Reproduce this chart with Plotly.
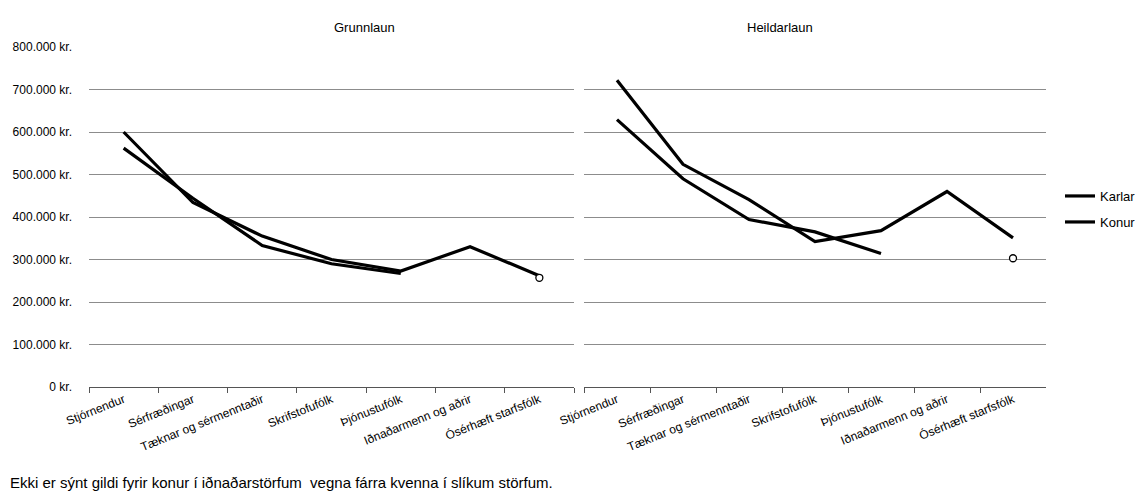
import plotly.graph_objects as go
from plotly.subplots import make_subplots

# Gögn (lesin af myndinni)
starfshopar = ["Stjórnendur", "Sérfræðingar", "Tæknar og sérmenntaðir", "Skrifstofufólk",
               "Þjónustufólk", "Iðnaðarmenn og aðrir", "Ósérhæft starfsfólk"]
grunnlaun_karlar = [600000, 434000, 355000, 300000, 273000, 330000, 262000]
grunnlaun_konur = [562000, 444000, 333000, 290000, 267000, None, 257000]
heildarlaun_karlar = [722000, 524000, 441000, 342000, 368000, 460000, 351000]
heildarlaun_konur = [629000, 490000, 394000, 365000, 314000, None, 303000]

y_gildi = [0, 100000, 200000, 300000, 400000, 500000, 600000, 700000, 800000]
y_merki = ["0 kr.", "100.000 kr.", "200.000 kr.", "300.000 kr.", "400.000 kr.",
           "500.000 kr.", "600.000 kr.", "700.000 kr.", "800.000 kr."]

LETUR = "Liberation Sans, Arial, sans-serif"
W, H = 1146, 500
TOP, BOTTOM = 47, 387


def px_x(p):
    return p / W


def px_y(p):
    return (BOTTOM - p) / (BOTTOM - TOP)


def einangrud(gildi):
    """Punktar sem hafa engan nágranna -> sýndir sem hringur"""
    idx = []
    for i, v in enumerate(gildi):
        if v is None:
            continue
        fyrra = gildi[i - 1] if i > 0 else None
        naesta = gildi[i + 1] if i < len(gildi) - 1 else None
        if fyrra is None and naesta is None:
            idx.append(i)
    return idx


fig = make_subplots(rows=1, cols=2)

raðir = [
    (1, grunnlaun_karlar, grunnlaun_konur),
    (2, heildarlaun_karlar, heildarlaun_konur),
]
for col, karlar, konur in raðir:
    fig.add_trace(go.Scatter(
        x=starfshopar, y=karlar, name="Karlar", mode="lines",
        line=dict(color="#000000", width=3.2),
        showlegend=(col == 1), legend="legend"
    ), row=1, col=col)
    fig.add_trace(go.Scatter(
        x=starfshopar, y=konur, name="Konur", mode="lines",
        line=dict(color="#000000", width=3.2),
        showlegend=(col == 1), legend="legend2"
    ), row=1, col=col)
    for gildi in (karlar, konur):
        ein = einangrud(gildi)
        if ein:
            fig.add_trace(go.Scatter(
                x=[starfshopar[i] for i in ein], y=[gildi[i] for i in ein],
                mode="markers", showlegend=False,
                marker=dict(symbol="circle", size=7, color="white",
                            line=dict(color="#000000", width=1.3))
            ), row=1, col=col)

x_sameiginlegt = dict(
    type="category", range=[-0.5, len(starfshopar) - 0.5],
    showgrid=False, zeroline=False,
    showline=True, linecolor="#555555", linewidth=1,
    ticks="outside", ticklen=5, tickcolor="#555555", tickson="boundaries",
    tickangle=-22, tickfont=dict(size=12, color="#000000"),
    automargin=False,
)
y_sameiginlegt = dict(
    range=[0, 800000], tickvals=y_gildi, showgrid=True,
    gridcolor="#8c8c8c", gridwidth=1, zeroline=False, showline=False,
    automargin=False,
)

fig.update_xaxes(domain=[px_x(89), px_x(574)], row=1, col=1, **x_sameiginlegt)
fig.update_xaxes(domain=[px_x(584), px_x(1046)], row=1, col=2, **x_sameiginlegt)
fig.update_yaxes(row=1, col=1, ticktext=y_merki, ticklabelstandoff=16,
                 tickfont=dict(size=12, color="#000000"), **y_sameiginlegt)
fig.update_yaxes(row=1, col=2, showticklabels=False, **y_sameiginlegt)

fig.add_annotation(text="Grunnlaun", x=(px_x(89) + px_x(574)) / 2, y=px_y(18),
                   xref="paper", yref="paper", showarrow=False,
                   font=dict(size=13, color="#000000"))
fig.add_annotation(text="Heildarlaun", x=(px_x(584) + px_x(1046)) / 2, y=px_y(18),
                   xref="paper", yref="paper", showarrow=False,
                   font=dict(size=13, color="#000000"))
fig.add_annotation(text="Ekki er sýnt gildi fyrir konur í iðnaðarstörfum  vegna fárra kvenna í slíkum störfum.",
                   x=px_x(8), y=px_y(483), xref="paper", yref="paper",
                   xanchor="left", yanchor="middle", showarrow=False,
                   font=dict(size=15, color="#000000"))

legend_stillingar = dict(x=px_x(1060), xanchor="left", yanchor="middle",
                         bgcolor="rgba(0,0,0,0)", borderwidth=0,
                         font=dict(size=13, color="#000000"))
fig.update_layout(
    width=W, height=H,
    margin=dict(l=0, r=0, t=TOP, b=H - BOTTOM),
    plot_bgcolor="white", paper_bgcolor="white",
    font=dict(family=LETUR, color="#000000"),
    legend=dict(y=px_y(196), **legend_stillingar),
    legend2=dict(y=px_y(222), **legend_stillingar),
)

fig.write_html("out.html", config={"displayModeBar": False},
               post_script="document.body.style.margin = '0px';")
